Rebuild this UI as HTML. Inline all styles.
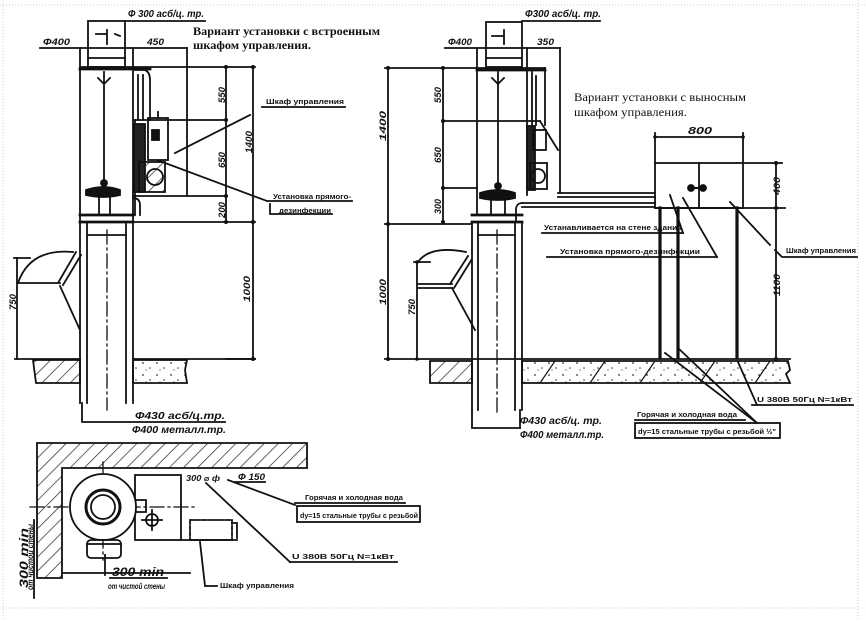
<!DOCTYPE html>
<html><head><meta charset="utf-8">
<style>
html,body{margin:0;padding:0;background:#fff;}
svg{display:block;}
text{font-family:"Liberation Sans","DejaVu Sans",sans-serif;fill:#111;}
.t{font-weight:bold;}
.d{font-style:italic;font-weight:bold;}
.s{font-family:"Liberation Serif","DejaVu Serif",serif;}
</style></head>
<body>
<svg width="866" height="621" viewBox="0 0 866 621" xmlns="http://www.w3.org/2000/svg">
<defs>
<pattern id="hatch" width="10" height="10" patternUnits="userSpaceOnUse" patternTransform="rotate(45)">
<line x1="0" y1="0" x2="0" y2="10" stroke="#222" stroke-width="1.4"/>
</pattern>
<pattern id="conc" width="14" height="12" patternUnits="userSpaceOnUse">
<circle cx="3" cy="3" r="0.9" fill="#333"/><circle cx="10" cy="8" r="0.8" fill="#333"/><circle cx="6" cy="10" r="0.6" fill="#333"/>
</pattern>
</defs>
<rect width="866" height="621" fill="#fff"/>
<g stroke="#cfcfcf" stroke-width="1" stroke-dasharray="1 2" fill="none">
<line x1="0" y1="5" x2="866" y2="5"/><line x1="858" y1="0" x2="858" y2="621"/><line x1="0" y1="608" x2="866" y2="608"/><line x1="3" y1="0" x2="3" y2="621"/>
</g>

<g stroke="#111" stroke-width="1.8" fill="none" stroke-linecap="square">
<!-- ================= LEFT ELEVATION ================= -->
<rect x="88" y="21" width="37" height="46"/>
<line x1="88" y1="58" x2="125" y2="58"/>
<line x1="125" y1="21" x2="205" y2="21"/>
<path d="M96 34 L107 34 M107 30 L107 44 M115 34 L120 36" />
<line x1="40" y1="48" x2="187" y2="48"/>
<line x1="80" y1="48" x2="80" y2="403"/>
<line x1="133" y1="48" x2="133" y2="403"/>
<line x1="187" y1="48" x2="187" y2="196"/>
<line x1="80" y1="67" x2="255" y2="67"/>
<line x1="80" y1="69" x2="150" y2="69" stroke-width="2.8"/>
<line x1="133" y1="120" x2="226" y2="120"/>
<line x1="133" y1="196" x2="226" y2="196"/>
<line x1="80" y1="222" x2="255" y2="222"/>
<line x1="80" y1="215" x2="133" y2="215" stroke-width="2.8"/>
<line x1="80" y1="222" x2="133" y2="222" stroke-width="2.8"/>
<line x1="104" y1="72" x2="104" y2="188"/>
<path d="M98 78 L104 84 L110 78"/>
<path d="M86 190 Q104 184 120 190 L120 195 Q104 199 86 195 Z" fill="#111"/>
<circle cx="104" cy="183" r="3" fill="#111"/>
<path d="M99 197 L99 213 M110 197 L110 213"/>
<path d="M135 70 L145 70 Q150 72 150 80 L150 120"/>
<path d="M138 75 L138 120 M143 75 L143 120"/>
<line x1="135" y1="120" x2="135" y2="215"/>
<path d="M133 198 Q140 198 140 205 L140 215"/>
<rect x="134" y="124" width="11" height="68" fill="#222"/>
<rect x="148" y="118" width="20" height="42"/>
<rect x="152" y="130" width="7" height="10" fill="#111"/>
<line x1="158" y1="112" x2="158" y2="118"/>
<rect x="139" y="162" width="26" height="30" fill="url(#hatch)"/>
<circle cx="155" cy="177" r="8"/>
<line x1="226" y1="67" x2="226" y2="222"/>
<line x1="253" y1="67" x2="253" y2="359"/>
<line x1="226" y1="359" x2="255" y2="359"/>
<g fill="#111" stroke="none">
<circle cx="226" cy="67" r="2"/><circle cx="226" cy="120" r="2"/><circle cx="226" cy="196" r="2"/><circle cx="226" cy="222" r="2"/>
<circle cx="253" cy="67" r="2"/><circle cx="253" cy="222" r="2"/><circle cx="253" cy="359" r="2"/>
</g>
<line x1="175" y1="153" x2="250" y2="115"/>
<line x1="262" y1="107" x2="345" y2="107"/>
<line x1="157" y1="160" x2="267" y2="201"/>
<line x1="267" y1="201" x2="352" y2="201"/>
<path d="M270 204 L270 214 L332 214"/>
<line x1="87" y1="222" x2="87" y2="403"/>
<line x1="126" y1="222" x2="126" y2="403"/>
<line x1="88" y1="235" x2="126" y2="235"/>
<line x1="107" y1="230" x2="107" y2="410" stroke-dasharray="14 4 2 4" stroke-width="1.3"/>
<path d="M82 403 L82 422 L225 422"/>
<path d="M18 283 Q30 248 73 252"/>
<line x1="18" y1="283" x2="60" y2="283"/>
<line x1="58" y1="283" x2="76" y2="252"/>
<line x1="63" y1="285" x2="81" y2="255"/>
<line x1="60" y1="286" x2="80" y2="330"/>
<line x1="17" y1="258" x2="17" y2="359"/>
<line x1="14" y1="258" x2="30" y2="258"/>
<line x1="15" y1="359" x2="80" y2="359"/>
<line x1="133" y1="359" x2="255" y2="359"/>
<path d="M33 360 L80 360 L80 383 L36 383 Z" fill="url(#hatch)"/>
<path d="M133 360 L187 360 L185 370 L187 383 L133 383 Z" fill="url(#conc)"/>

<!-- ================= RIGHT ELEVATION ================= -->
<rect x="486" y="22" width="36" height="45"/>
<line x1="486" y1="58" x2="522" y2="58"/>
<line x1="522" y1="21" x2="600" y2="21"/>
<path d="M492 36 L504 36 M504 30 L504 44"/>
<line x1="445" y1="48" x2="560" y2="48"/>
<line x1="477" y1="48" x2="477" y2="215"/>
<line x1="527" y1="48" x2="527" y2="195"/>
<line x1="545" y1="68" x2="545" y2="125"/>
<line x1="560" y1="48" x2="560" y2="193"/>
<line x1="385" y1="68" x2="545" y2="68"/>
<line x1="477" y1="70" x2="545" y2="70" stroke-width="2.8"/>
<line x1="443" y1="121" x2="540" y2="121"/>
<line x1="443" y1="188" x2="477" y2="188"/>
<line x1="540" y1="121" x2="558" y2="150"/>
<line x1="385" y1="224" x2="472" y2="224"/>
<line x1="498" y1="72" x2="498" y2="188"/>
<path d="M492 78 L498 84 L504 78"/>
<path d="M532 72 L532 125 M536 76 L536 125"/>
<rect x="527" y="126" width="8" height="64" fill="#222"/>
<rect x="533" y="130" width="13" height="20"/>
<rect x="530" y="163" width="17" height="26"/>
<circle cx="538" cy="176" r="7"/>
<path d="M480 193 Q498 187 515 193 L515 198 Q498 202 480 198 Z" fill="#111"/>
<circle cx="498" cy="186" r="3" fill="#111"/>
<path d="M491 200 L491 215 M505 200 L505 215"/>
<line x1="472" y1="215" x2="522" y2="215" stroke-width="2.8"/>
<line x1="472" y1="222" x2="522" y2="222" stroke-width="2.8"/>
<line x1="558" y1="193" x2="655" y2="193"/>
<line x1="558" y1="197" x2="655" y2="197"/>
<line x1="522" y1="203" x2="655" y2="203"/>
<line x1="522" y1="207" x2="655" y2="207"/>
<path d="M522 203 Q516 203 516 210 L516 222"/>
<line x1="443" y1="68" x2="443" y2="222"/>
<line x1="388" y1="68" x2="388" y2="359"/>
<g fill="#111" stroke="none">
<circle cx="443" cy="68" r="2"/><circle cx="443" cy="121" r="2"/><circle cx="443" cy="188" r="2"/><circle cx="443" cy="222" r="2"/>
<circle cx="388" cy="68" r="2"/><circle cx="388" cy="224" r="2"/><circle cx="388" cy="359" r="2"/>
<circle cx="417" cy="262" r="1.8"/><circle cx="417" cy="359" r="1.8"/>
<circle cx="655" cy="137" r="1.8"/><circle cx="743" cy="137" r="1.8"/>
<circle cx="776" cy="163" r="2"/><circle cx="776" cy="208" r="2"/><circle cx="776" cy="359" r="2"/>
</g>
<line x1="472" y1="222" x2="472" y2="410"/>
<line x1="478" y1="222" x2="478" y2="410"/>
<line x1="515" y1="222" x2="515" y2="410"/>
<line x1="522" y1="222" x2="522" y2="410"/>
<line x1="478" y1="235" x2="515" y2="235"/>
<line x1="497" y1="230" x2="497" y2="415" stroke-dasharray="14 4 2 4" stroke-width="1.3"/>
<path d="M472 410 L472 428 L520 428"/>
<line x1="520" y1="428" x2="520" y2="410"/>
<path d="M418 262 Q430 245 466 252"/>
<line x1="418" y1="284" x2="452" y2="284"/>
<line x1="418" y1="288" x2="452" y2="288"/>
<line x1="450" y1="284" x2="468" y2="256"/>
<line x1="454" y1="288" x2="472" y2="259"/>
<line x1="452" y1="288" x2="475" y2="330"/>
<line x1="417" y1="262" x2="417" y2="359"/>
<line x1="414" y1="262" x2="430" y2="262"/>
<line x1="385" y1="359" x2="790" y2="359"/>
<path d="M430 361 L472 361 L472 383 L430 383 Z" fill="url(#hatch)"/>
<path d="M522 361 L788 361 L790 370 L786 374 L790 383 L522 383 Z" fill="url(#conc)"/>
<g stroke-width="1.2">
<line x1="540" y1="383" x2="555" y2="361"/><line x1="590" y1="383" x2="605" y2="361"/><line x1="640" y1="383" x2="655" y2="361"/><line x1="700" y1="383" x2="715" y2="361"/><line x1="755" y1="383" x2="770" y2="361"/>
</g>
<rect x="655" y="163" width="88" height="45"/>
<line x1="699" y1="163" x2="699" y2="208"/>
<line x1="743" y1="163" x2="782" y2="163"/>
<line x1="655" y1="208" x2="785" y2="208"/>
<line x1="655" y1="133" x2="655" y2="163"/>
<line x1="743" y1="133" x2="743" y2="163"/>
<line x1="655" y1="137" x2="743" y2="137"/>
<line x1="776" y1="163" x2="776" y2="359"/>
<path d="M691 188 L703 188" stroke-width="2"/>
<circle cx="691" cy="188" r="3" fill="#111"/><circle cx="703" cy="188" r="3" fill="#111"/>
<line x1="660" y1="208" x2="660" y2="358" stroke-width="3.2"/>
<line x1="678" y1="208" x2="678" y2="358" stroke-width="3.2"/>
<line x1="737" y1="208" x2="737" y2="358" stroke-width="3.2"/>
<line x1="670" y1="195" x2="683" y2="233"/>
<line x1="542" y1="233" x2="683" y2="233"/>
<line x1="683" y1="198" x2="717" y2="257"/>
<line x1="547" y1="257" x2="717" y2="257"/>
<line x1="730" y1="202" x2="770" y2="245"/>
<path d="M775 250 L782 257 L857 257"/>
<line x1="738" y1="362" x2="757" y2="405"/>
<line x1="752" y1="405" x2="853" y2="405"/>
<line x1="665" y1="353" x2="757" y2="423"/>
<line x1="678" y1="348" x2="757" y2="423"/>
<line x1="635" y1="420" x2="745" y2="420"/>
<rect x="635" y="423" width="145" height="15"/>

<!-- ================= PLAN VIEW ================= -->
<path d="M37 443 L307 443 L307 468 L62 468 L62 578 L37 578 Z" fill="url(#hatch)"/>
<line x1="30" y1="507" x2="197" y2="507" stroke-dasharray="14 4 2 4" stroke-width="1.3"/>
<line x1="103" y1="462" x2="103" y2="560" stroke-dasharray="14 4 2 4" stroke-width="1.3"/>
<rect x="135" y="475" width="46" height="65"/>
<circle cx="103" cy="507" r="33" fill="#fff"/>
<circle cx="103" cy="507" r="17" stroke-width="3"/>
<circle cx="103" cy="507" r="12"/>
<path d="M136 500 L146 500 L146 512 L136 512"/>
<rect x="87" y="540" width="34" height="18" rx="4"/>
<line x1="87" y1="544" x2="121" y2="544"/>
<circle cx="152" cy="520" r="6"/>
<path d="M142 520 L162 520 M152 510 L152 530"/>
<line x1="181" y1="540" x2="237" y2="540"/>
<rect x="190" y="520" width="42" height="20" stroke-dasharray="4 2"/>
<path d="M232 523 L237 523 L237 538"/>
<line x1="228" y1="480" x2="295" y2="505"/>
<line x1="295" y1="503" x2="405" y2="503"/>
<rect x="297" y="506" width="123" height="16"/>
<line x1="206" y1="483" x2="290" y2="562"/>
<line x1="290" y1="562" x2="397" y2="562"/>
<line x1="235" y1="482" x2="265" y2="482"/>
<path d="M200 542 L205 586 L217 586"/>
<line x1="62" y1="573" x2="190" y2="573"/>
<line x1="105" y1="555" x2="105" y2="575"/>
<line x1="110" y1="578" x2="167" y2="578"/>
<line x1="34" y1="520" x2="34" y2="598"/>
</g>

<!-- ================= TEXT ================= -->
<text class="d" x="128" y="17" font-size="10" textLength="76" lengthAdjust="spacingAndGlyphs">Ф 300 асб/ц. тр.</text>
<text class="d" x="43" y="45" font-size="9" textLength="27" lengthAdjust="spacingAndGlyphs">Ф400</text>
<text class="d" x="147" y="45" font-size="9" textLength="17" lengthAdjust="spacingAndGlyphs">450</text>
<text class="t s" x="193" y="35" font-size="12" textLength="187" lengthAdjust="spacingAndGlyphs">Вариант установки с встроенным</text>
<text class="t s" x="193" y="49" font-size="12" textLength="118" lengthAdjust="spacingAndGlyphs">шкафом управления.</text>
<text class="t" x="266" y="104" font-size="7.5" textLength="78" lengthAdjust="spacingAndGlyphs">Шкаф управления</text>
<text class="t" x="273" y="199" font-size="7.5" textLength="78" lengthAdjust="spacingAndGlyphs">Установка прямого-</text>
<text class="t" x="279" y="213" font-size="7.5" textLength="52" lengthAdjust="spacingAndGlyphs">дезинфекции</text>
<text class="d" font-size="9" transform="translate(225,103) rotate(-90)" textLength="16" lengthAdjust="spacingAndGlyphs">550</text>
<text class="d" font-size="9" transform="translate(225,168) rotate(-90)" textLength="16" lengthAdjust="spacingAndGlyphs">650</text>
<text class="d" font-size="9" transform="translate(225,218) rotate(-90)" textLength="16" lengthAdjust="spacingAndGlyphs">200</text>
<text class="d" font-size="9" transform="translate(252,153) rotate(-90)" textLength="22" lengthAdjust="spacingAndGlyphs">1400</text>
<text class="d" font-size="9" transform="translate(250,302) rotate(-90)" textLength="26" lengthAdjust="spacingAndGlyphs">1000</text>
<text class="d" font-size="9" transform="translate(16,310) rotate(-90)" textLength="16" lengthAdjust="spacingAndGlyphs">750</text>
<text class="d" x="135" y="419" font-size="10" textLength="90" lengthAdjust="spacingAndGlyphs">Ф430 асб/ц.тр.</text>
<text class="d" x="132" y="433" font-size="10" textLength="94" lengthAdjust="spacingAndGlyphs">Ф400 металл.тр.</text>

<text class="d" x="525" y="17" font-size="10" textLength="76" lengthAdjust="spacingAndGlyphs">Ф300 асб/ц. тр.</text>
<text class="d" x="448" y="45" font-size="9" textLength="24" lengthAdjust="spacingAndGlyphs">Ф400</text>
<text class="d" x="537" y="45" font-size="9" textLength="17" lengthAdjust="spacingAndGlyphs">350</text>
<text class="s" x="574" y="101" font-size="11.5" textLength="172" lengthAdjust="spacingAndGlyphs">Вариант установки с выносным</text>
<text class="s" x="574" y="116" font-size="11.5" textLength="113" lengthAdjust="spacingAndGlyphs">шкафом управления.</text>
<text class="d" x="688" y="134" font-size="10" textLength="24" lengthAdjust="spacingAndGlyphs">800</text>
<text class="d" font-size="9" transform="translate(441,103) rotate(-90)" textLength="16" lengthAdjust="spacingAndGlyphs">550</text>
<text class="d" font-size="9" transform="translate(441,163) rotate(-90)" textLength="16" lengthAdjust="spacingAndGlyphs">650</text>
<text class="d" font-size="9" transform="translate(441,214) rotate(-90)" textLength="15" lengthAdjust="spacingAndGlyphs">300</text>
<text class="d" font-size="9" transform="translate(386,141) rotate(-90)" textLength="30" lengthAdjust="spacingAndGlyphs">1400</text>
<text class="d" font-size="9" transform="translate(386,305) rotate(-90)" textLength="26" lengthAdjust="spacingAndGlyphs">1000</text>
<text class="d" font-size="9" transform="translate(415,315) rotate(-90)" textLength="16" lengthAdjust="spacingAndGlyphs">750</text>
<text class="d" font-size="9" transform="translate(780,195) rotate(-90)" textLength="18" lengthAdjust="spacingAndGlyphs">400</text>
<text class="d" font-size="9" transform="translate(780,296) rotate(-90)" textLength="22" lengthAdjust="spacingAndGlyphs">1100</text>
<text class="t" x="544" y="230" font-size="7.5" textLength="138" lengthAdjust="spacingAndGlyphs">Устанавливается на стене здания</text>
<text class="t" x="560" y="254" font-size="7.5" textLength="140" lengthAdjust="spacingAndGlyphs">Установка прямого-дезинфекции</text>
<text class="t" x="786" y="253" font-size="7.5" textLength="70" lengthAdjust="spacingAndGlyphs">Шкаф управления</text>
<text class="d" x="520" y="424" font-size="10" textLength="82" lengthAdjust="spacingAndGlyphs">Ф430 асб/ц. тр.</text>
<text class="d" x="520" y="438" font-size="10" textLength="84" lengthAdjust="spacingAndGlyphs">Ф400 металл.тр.</text>
<text class="t" x="757" y="402" font-size="7.5" textLength="95" lengthAdjust="spacingAndGlyphs">U 380В  50Гц   N=1кВт</text>
<text class="t" x="637" y="417" font-size="7.5" textLength="100" lengthAdjust="spacingAndGlyphs">Горячая и холодная вода</text>
<text class="t" x="638" y="434" font-size="7.5" textLength="138" lengthAdjust="spacingAndGlyphs">dy=15 стальные трубы с резьбой ½"</text>

<text class="d" x="186" y="481" font-size="8" textLength="34" lengthAdjust="spacingAndGlyphs">300 ⌀ ф</text>
<text class="d" x="238" y="480" font-size="9" textLength="27" lengthAdjust="spacingAndGlyphs">Ф 150</text>
<text class="t" x="305" y="500" font-size="7.5" textLength="98" lengthAdjust="spacingAndGlyphs">Горячая и холодная вода</text>
<text class="t" x="300" y="518" font-size="7.5" textLength="118" lengthAdjust="spacingAndGlyphs">dy=15 стальные трубы с резьбой</text>
<text class="t" x="292" y="559" font-size="7.5" textLength="102" lengthAdjust="spacingAndGlyphs">U 380В  50Гц   N=1кВт</text>
<text class="d" x="112" y="576" font-size="12" textLength="52" lengthAdjust="spacingAndGlyphs">300 min</text>
<text class="d" x="108" y="589" font-size="8.5" textLength="57" lengthAdjust="spacingAndGlyphs">от чистой стены</text>
<text class="t" x="220" y="588" font-size="7.5" textLength="74" lengthAdjust="spacingAndGlyphs">Шкаф управления</text>
<text class="d" font-size="12" transform="translate(28,588) rotate(-90)" textLength="60" lengthAdjust="spacingAndGlyphs">300 min</text>
<text class="d" font-size="8" transform="translate(33,590) rotate(-90)" textLength="66" lengthAdjust="spacingAndGlyphs">от чистой стены</text>
</svg>
</body></html>
